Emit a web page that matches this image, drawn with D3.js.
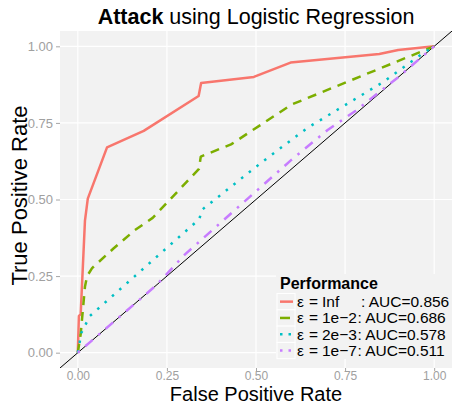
<!DOCTYPE html>
<html>
<head>
<meta charset="utf-8">
<script src="https://cdn.jsdelivr.net/npm/d3@7"></script>
<style>
  html, body { margin: 0; padding: 0; background: #ffffff; }
  svg { display: block; font-family: "Liberation Sans", Arial, sans-serif; }
</style>
</head>
<body>
<svg id="chart" width="452" height="405"></svg>
<script>
// ---- data ----
const seriesNames = ["Inf", "1e\u22122", "2e\u22123", "1e\u22127"];
const aucValues = ["0.856", "0.686", "0.578", "0.511"];
const seriesColors = ["#F8766D", "#7CAE00", "#00BFC4", "#C77CFF"];

const fprInf = [0, 0.003, 0.008, 0.020, 0.028, 0.082, 0.185, 0.339, 0.346, 0.494, 0.597, 0.846, 0.899, 1];
const tprInf = [0, 0.120, 0.125, 0.430, 0.503, 0.670, 0.724, 0.838, 0.880, 0.900, 0.947, 0.975, 0.988, 1];

const fpr1e2 = [0, 0.008, 0.020, 0.026, 0.040, 0.100, 0.160, 0.210, 0.340, 0.345, 0.430, 0.600, 1];
const tpr1e2 = [0, 0.060, 0.215, 0.250, 0.276, 0.340, 0.400, 0.440, 0.600, 0.640, 0.680, 0.810, 1];

const fpr2e3 = [0, 0.010, 0.034, 0.341, 0.348, 0.520, 0.646, 0.855, 0.967, 1];
const tpr2e3 = [0, 0.065, 0.120, 0.436, 0.466, 0.625, 0.735, 0.882, 0.976, 1];

const fpr1e7 = [0, 0.220, 0.300, 0.600, 0.700, 0.780, 0.900, 1];
const tpr1e7 = [0, 0.220, 0.320, 0.630, 0.726, 0.790, 0.900, 1];

const xTicks = [0, 0.25, 0.5, 0.75, 1];
const yTicks = [0, 0.25, 0.5, 0.75, 1];
const xTickLabels = ["0.00", "0.25", "0.50", "0.75", "1.00"];
const yTickLabels = ["0.00", "0.25", "0.50", "0.75", "1.00"];

const seriesData = [
  fprInf.map((f, i) => [f, tprInf[i]]),
  fpr1e2.map((f, i) => [f, tpr1e2[i]]),
  fpr2e3.map((f, i) => [f, tpr2e3[i]]),
  fpr1e7.map((f, i) => [f, tpr1e7[i]])
];
const dashes = [null, "9,7", "2.5,7.3", "2.5,7.3,9.8,7.3"];

// ---- layout ----
const svg = d3.select("#chart");
const panel = { left: 60, right: 452, top: 31, bottom: 368 };
const x = d3.scaleLinear().domain([-0.05, 1.05]).range([panel.left, panel.right]);
const y = d3.scaleLinear().domain([-0.05, 1.05]).range([panel.bottom, panel.top]);

svg.append("defs").append("clipPath").attr("id", "clip")
  .append("rect").attr("x", panel.left).attr("y", panel.top)
  .attr("width", panel.right - panel.left).attr("height", panel.bottom - panel.top);

svg.append("rect").attr("x", panel.left).attr("y", panel.top)
  .attr("width", panel.right - panel.left).attr("height", panel.bottom - panel.top)
  .attr("fill", "#F2F2F2");

// grid
const grid = svg.append("g");
grid.selectAll(".vg").data(xTicks).enter().append("line")
  .attr("x1", d => x(d)).attr("x2", d => x(d))
  .attr("y1", panel.top).attr("y2", panel.bottom)
  .attr("stroke", "#ffffff").attr("stroke-width", 1.2);
grid.selectAll(".hg").data(yTicks).enter().append("line")
  .attr("y1", d => y(d)).attr("y2", d => y(d))
  .attr("x1", panel.left).attr("x2", panel.right)
  .attr("stroke", "#ffffff").attr("stroke-width", 1.2);

// axes
const xAxis = d3.axisBottom(x).tickValues(xTicks).tickSize(3).tickPadding(0.3)
  .tickFormat((d, i) => xTickLabels[i]);
const yAxis = d3.axisLeft(y).tickValues(yTicks).tickSize(4).tickPadding(3)
  .tickFormat((d, i) => yTickLabels[i]);

const gx = svg.append("g").attr("transform", `translate(0,${panel.bottom})`).call(xAxis);
const gy = svg.append("g").attr("transform", `translate(${panel.left},0)`).call(yAxis);
[gx, gy].forEach(g => {
  g.select(".domain").remove();
  g.selectAll(".tick line").attr("stroke", "#A6A6A6").attr("stroke-width", 1);
  g.selectAll(".tick text").attr("fill", "#A0A0A0")
    .style("font-size", "13px").style("font-family", "Liberation Sans, Arial, sans-serif");
});
gx.selectAll(".tick text").style("font-size", "12px");

// lines
const plot = svg.append("g").attr("clip-path", "url(#clip)");
plot.append("line")
  .attr("x1", x(-0.05)).attr("y1", y(-0.05))
  .attr("x2", x(1.05)).attr("y2", y(1.05))
  .attr("stroke", "#000000").attr("stroke-width", 1);

const lineGen = d3.line().x(d => x(d[0])).y(d => y(d[1]));
seriesData.forEach((s, i) => {
  plot.append("path").datum(s)
    .attr("d", lineGen)
    .attr("fill", "none")
    .attr("stroke", seriesColors[i])
    .attr("stroke-width", 2.5)
    .attr("stroke-dasharray", dashes[i])
    .attr("stroke-linejoin", "round");
});

// titles
svg.append("text").attr("x", 256).attr("y", 24).attr("text-anchor", "middle")
  .style("font-size", "21.5px").attr("fill", "#000")
  .call(t => {
    t.append("tspan").attr("font-weight", "bold").text("Attack");
    t.append("tspan").text(" using Logistic Regression");
  });

svg.append("text").attr("x", 256).attr("y", 400.7).attr("text-anchor", "middle")
  .style("font-size", "20px").attr("fill", "#000").text("False Positive Rate");

svg.append("text").attr("transform", `translate(27,${(panel.top + panel.bottom) / 2 - 4}) rotate(-90)`)
  .attr("text-anchor", "middle")
  .style("font-size", "22px").attr("fill", "#000").text("True Positive Rate");

// legend
const leg = svg.append("g");
leg.append("rect").attr("x", 276).attr("y", 274).attr("width", 176).attr("height", 85)
  .attr("fill", "#F2F2F2");
leg.append("text").attr("x", 280).attr("y", 289)
  .style("font-size", "16px").attr("font-weight", "bold").attr("fill", "#000").text("Performance");

const rowY0 = 293.5, rowH = 16.3;
const nameEnds = [];
const rows = seriesNames.map((name, i) => {
  const ry = rowY0 + i * rowH;
  const cy = ry + rowH / 2;
  leg.append("rect").attr("x", 277).attr("y", ry).attr("width", 18).attr("height", rowH)
    .attr("fill", "#F2F2F2").attr("stroke", "#ffffff").attr("stroke-width", 1);
  leg.append("line").attr("x1", 280).attr("x2", 293).attr("y1", cy).attr("y2", cy)
    .attr("stroke", seriesColors[i]).attr("stroke-width", 2.5)
    .attr("stroke-dasharray", i === 1 ? "10,20" : (i >= 2 ? "2.5,6" : null));
  const ty = cy + 5.5;
  leg.append("text").attr("x", 297).attr("y", ty)
    .style("font-size", "15.5px").attr("fill", "#000").text("\u03B5");
  leg.append("text").attr("x", 309).attr("y", ty)
    .style("font-size", "15.5px").attr("fill", "#000").text("=");
  const nt = leg.append("text").attr("x", 322).attr("y", ty)
    .style("font-size", "15.5px").attr("fill", "#000").text(name);
  nameEnds.push(322 + nt.node().getComputedTextLength());
  return ty;
});
const maxEnd = d3.max(nameEnds);
rows.forEach((ty, i) => {
  const cx = nameEnds[i] > maxEnd - 6 ? nameEnds[i] + 0.5 : maxEnd + 4;
  leg.append("text").attr("x", cx).attr("y", ty)
    .style("font-size", "15.5px").attr("fill", "#000")
    .text(": AUC=" + aucValues[i]);
});
</script>
</body>
</html>
